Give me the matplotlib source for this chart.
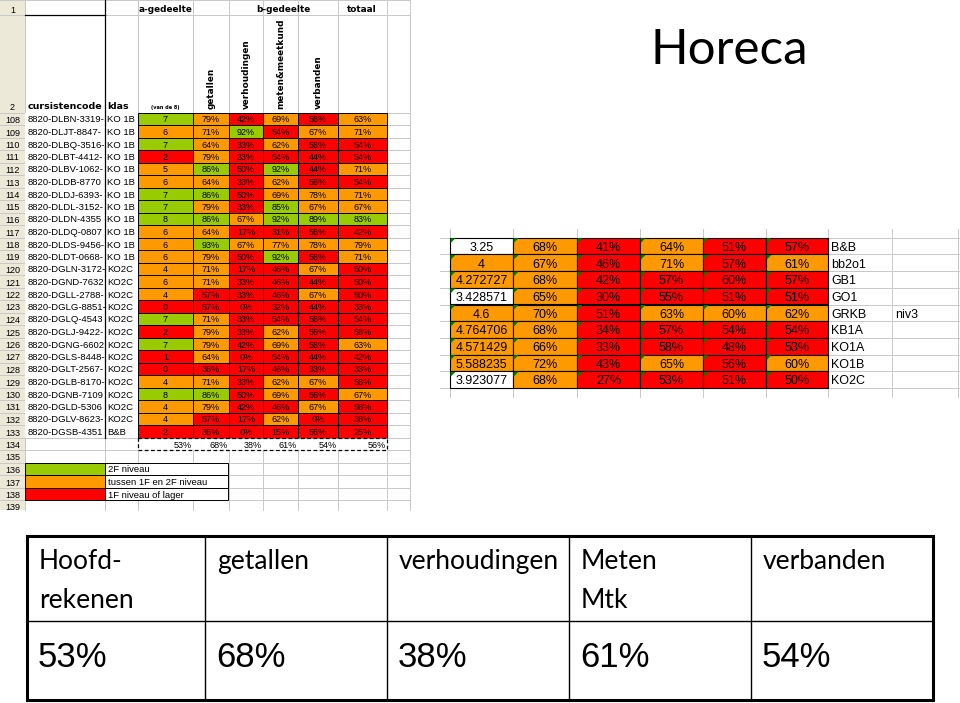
import matplotlib.pyplot as plt
from matplotlib.patches import Rectangle, Polygon

# ---- data: leerlingen (rij 108-133) ----
rij_nrs = list(range(108, 134))
codes = ['8820-DLBN-3319-', '8820-DLJT-8847-', '8820-DLBQ-3516-', '8820-DLBT-4412-',
         '8820-DLBV-1062-', '8820-DLDB-8770', '8820-DLDJ-6393-', '8820-DLDL-3152-',
         '8820-DLDN-4355', '8820-DLDQ-0807', '8820-DLDS-9456-', '8820-DLDT-0668-',
         '8820-DGLN-3172-', '8820-DGND-7632', '8820-DGLL-2788-', '8820-DGLG-8851-',
         '8820-DGLQ-4543', '8820-DGLJ-9422-', '8820-DGNG-6602', '8820-DGLS-8448-',
         '8820-DGLT-2567-', '8820-DGLB-8170-', '8820-DGNB-7109', '8820-DGLD-5306',
         '8820-DGLV-8623-', '8820-DGSB-4351']
klassen = ['KO 1B'] * 12 + ['KO2C'] * 13 + ['B&B']
score_a = [7, 6, 7, 2, 5, 6, 7, 7, 8, 6, 6, 6, 4, 6, 4, 0, 7, 2, 7, 1, 0, 4, 8, 4, 4, 2]
getallen = [79, 71, 64, 79, 86, 64, 86, 79, 86, 64, 93, 79, 71, 71, 57, 57, 71, 79, 79, 64, 36, 71, 86, 79, 57, 36]
verhoudingen = [42, 92, 33, 33, 50, 33, 50, 33, 67, 17, 67, 50, 17, 33, 33, 0, 33, 33, 42, 0, 17, 33, 50, 42, 17, 0]
meten = [69, 54, 62, 54, 92, 62, 69, 85, 92, 31, 77, 92, 46, 46, 46, 32, 54, 62, 69, 54, 46, 62, 69, 46, 62, 15]
verbanden = [56, 67, 56, 44, 44, 56, 78, 67, 89, 56, 78, 56, 67, 44, 67, 44, 56, 56, 56, 44, 33, 67, 56, 67, 0, 56]
totaal = [63, 71, 54, 54, 71, 54, 71, 67, 83, 42, 79, 71, 50, 50, 50, 33, 54, 58, 63, 42, 33, 58, 67, 58, 38, 25]
gemiddelden = [53, 68, 38, 61, 54, 56]

# ---- data: per klas ----
klas_labels = ['B&B', 'bb2o1', 'GB1', 'GO1', 'GRKB', 'KB1A', 'KO1A', 'KO1B', 'KO2C']
klas_score = [3.25, 4, 4.272727, 3.428571, 4.6, 4.764706, 4.571429, 5.588235, 3.923077]
klas_getallen = [68, 67, 68, 65, 70, 68, 66, 72, 68]
klas_verh = [41, 46, 42, 30, 51, 34, 33, 43, 27]
klas_meten = [64, 71, 57, 55, 63, 57, 58, 65, 53]
klas_verb = [51, 57, 59.6, 51, 60, 54, 48, 56, 51]
klas_totaal = [57, 61, 57, 51, 62, 54, 53, 60, 50]

# ---- data: samenvatting ----
kopjes = ['Hoofd-\nrekenen', 'getallen', 'verhoudingen', 'Meten\nMtk', 'verbanden']
legenda = ['2F niveau', 'tussen 1F en 2F niveau', '1F niveau of lager']

GROEN, ORANJE, ROOD = '#99cc00', '#ff9900', '#ff0000'
RASTER = '#c8c8c8'
KOP_BG = '#ece9d8'


def kleur_pct(v):
    return GROEN if v >= 80 else ORANJE if v >= 60 else ROOD


def kleur_score(s):
    return GROEN if s >= 7 else ORANJE if s >= 4 else ROOD


fig = plt.figure(figsize=(9.6, 7.03), dpi=100)
ax = fig.add_axes([0, 0, 1, 1])
ax.set_xlim(0, 960)
ax.set_ylim(703, 0)
ax.axis('off')

SANS = 'Liberation Sans'

# ---------------- spreadsheet links ----------------
col_x = [0, 25, 105, 138, 193, 229, 263, 298, 338, 387, 410]
rh = 12.5
rij_top = {1: 0, 2: 15}
for i, nr in enumerate(range(108, 140)):
    rij_top[nr] = 112.5 + i * rh
onder = 510

# rijkoppen
ax.add_patch(Rectangle((0, 0), 25, onder, facecolor=KOP_BG, edgecolor='none', zorder=0))
for x in col_x[1:]:
    ax.plot([x, x], [0, onder], color=RASTER, lw=0.7, zorder=1)
for nr, top in rij_top.items():
    ax.plot([0, 410], [top, top], color=RASTER, lw=0.7, zorder=1)
    bot = rij_top.get(nr + 1, top + rh) if nr != 2 else 112.5
    ax.text(12.5, bot - 2, str(nr), ha='center', va='baseline', fontsize=6.5,
            family=SANS, zorder=5)
ax.plot([105, 105], [0, 437.5], color='black', lw=0.9, zorder=6)
ax.plot([25, 105], [15, 15], color='black', lw=0.9, zorder=6)

# kopteksten
bold = dict(fontweight='bold', family='DejaVu Sans', fontsize=6.4, zorder=5)
ax.text(165.5, 12, 'a-gedeelte', ha='center', va='baseline', **bold)
ax.text(283, 12, 'b-gedeelte', ha='center', va='baseline', **bold)
ax.text(362, 12, 'totaal', ha='center', va='baseline', **bold)
ax.text(28, 109, 'cursistencode', ha='left', va='baseline', fontweight='bold',
        family='DejaVu Sans', fontsize=6.8, zorder=5)
ax.text(107, 109, 'klas', ha='left', va='baseline', fontweight='bold',
        family='DejaVu Sans', fontsize=6.8, zorder=5)
ax.text(165.5, 108.5, '(van de 8)', ha='center', va='baseline', fontweight='bold',
        family='DejaVu Sans', fontsize=3.6, zorder=5)
for naam, x0, x1 in [('getallen', 193, 229), ('verhoudingen', 229, 263),
                     ('meten&meetkund', 263, 298), ('verbanden', 298, 338)]:
    t = ax.text((x0 + x1) / 2, 109, naam, ha='center', va='bottom', rotation=90, **bold)
    t.set_clip_path(Rectangle((x0, 15), x1 - x0, 97, transform=ax.transData))

# datarijen
kolommen = [getallen, verhoudingen, meten, verbanden, totaal]
for i, nr in enumerate(rij_nrs):
    top = rij_top[nr]
    ax.add_patch(Rectangle((25, top), 80, rh, facecolor='white', edgecolor='none', zorder=2))
    ax.plot([25, 105], [top + rh, top + rh], color=RASTER, lw=0.7, zorder=2)
    ax.text(28, top + rh - 2.5, codes[i], ha='left', va='baseline', fontsize=6.8,
            family=SANS, zorder=3)
    ax.add_patch(Rectangle((105, top), 33, rh, facecolor='white', edgecolor='none', zorder=4))
    ax.plot([105, 138], [top + rh, top + rh], color=RASTER, lw=0.7, zorder=4)
    ax.text(107, top + rh - 2.5, klassen[i], ha='left', va='baseline', fontsize=6.8,
            family=SANS, zorder=5)
    ax.add_patch(Rectangle((138, top), 55, rh, facecolor=kleur_score(score_a[i]),
                           edgecolor='black', lw=0.7, zorder=4))
    ax.text(165.5, top + rh - 2.5, str(score_a[i]), ha='center', va='baseline',
            fontsize=6.5, family=SANS, zorder=5)
    for k, waarden in enumerate(kolommen):
        x0, x1 = col_x[4 + k], col_x[5 + k]
        v = waarden[i]
        ax.add_patch(Rectangle((x0, top), x1 - x0, rh, facecolor=kleur_pct(v),
                               edgecolor='black', lw=0.7, zorder=4))
        ax.text((x0 + x1) / 2, top + rh - 2.5, f'{v}%', ha='center', va='baseline',
                fontsize=6.5, family=SANS, zorder=5)

# gemiddelden rij 134
top = rij_top[134]
ax.add_patch(Rectangle((138, top), 249, rh, facecolor='white', edgecolor='black',
                       lw=0.9, ls=(0, (3, 2)), zorder=4))
for k, v in enumerate(gemiddelden):
    ax.text(col_x[4 + k] - 1.5, top + rh - 2.5, f'{v}%', ha='right', va='baseline',
            fontsize=6.5, family=SANS, zorder=5)

# legenda rij 136-138
for j, (tekst, kl) in enumerate(zip(legenda, [GROEN, ORANJE, ROOD])):
    top = rij_top[136 + j]
    ax.add_patch(Rectangle((25, top), 80, rh, facecolor=kl, edgecolor='black', lw=0.7, zorder=4))
    ax.add_patch(Rectangle((105, top), 123, rh, facecolor='white', edgecolor='black', lw=0.7, zorder=4))
    ax.text(108, top + rh - 2.5, tekst, ha='left', va='baseline', fontsize=6.8,
            family=SANS, zorder=5)

# ---------------- tabel per klas ----------------
kx = [450, 513, 577, 640, 703, 766, 828, 892, 958]
ktop, kh = 237.7, 16.7
for x in kx:
    ax.plot([x, x], [229, 397], color=RASTER, lw=0.7, zorder=1)
for r in range(len(klas_labels) + 1):
    y = ktop + r * kh
    ax.plot([440, 960], [y, y], color=RASTER, lw=0.7, zorder=1)

klas_kolommen = [klas_getallen, klas_verh, klas_meten, klas_verb, klas_totaal]
for r, lab in enumerate(klas_labels):
    top = ktop + r * kh
    s = klas_score[r]
    ax.add_patch(Rectangle((kx[0], top), kx[1] - kx[0], kh,
                           facecolor=ORANJE if s >= 4 else 'white',
                           edgecolor='black', lw=0.8, zorder=4))
    ax.text((kx[0] + kx[1]) / 2, top + kh - 3.5, f'{s:.6f}'.rstrip('0').rstrip('.'),
            ha='center', va='baseline', fontsize=9, family=SANS, zorder=5)
    for k, waarden in enumerate(klas_kolommen):
        x0, x1 = kx[1 + k], kx[2 + k]
        v = waarden[r]
        ax.add_patch(Rectangle((x0, top), x1 - x0, kh, facecolor=kleur_pct(v),
                               edgecolor='black', lw=0.8, zorder=4))
        ax.text((x0 + x1) / 2, top + kh - 3.5, f'{v:.0f}%', ha='center', va='baseline',
                fontsize=9, family=SANS, zorder=5)
    for k in range(6):
        x0 = kx[k]
        ax.add_patch(Polygon([[x0 + 0.5, top + 0.5], [x0 + 5.5, top + 0.5], [x0 + 0.5, top + 5.5]],
                             closed=True, facecolor='#007a00', edgecolor='none', zorder=6))
    ax.text(kx[6] + 3, top + kh - 3.5, lab, ha='left', va='baseline', fontsize=9,
            family=SANS, zorder=5)
ax.text(kx[7] + 3, ktop + 4 * kh + kh - 3.5, 'niv3', ha='left', va='baseline',
        fontsize=9, family=SANS, zorder=5)

# ---------------- titel ----------------
ax.text(729, 64, 'Horeca', ha='center', va='baseline', fontsize=35.5, family='Lato')

# ---------------- samenvattingstabel ----------------
tx = [27, 205, 387, 569, 751, 933]
t_top, t_mid, t_bot = 536, 621, 700
ax.add_patch(Rectangle((tx[0], t_top), tx[-1] - tx[0], t_bot - t_top, facecolor='none',
                       edgecolor='black', lw=2.2, zorder=6))
ax.plot([tx[0], tx[-1]], [t_mid, t_mid], color='black', lw=1, zorder=6)
for x in tx[1:-1]:
    ax.plot([x, x], [t_top, t_bot], color='black', lw=1, zorder=6)
for k, kop in enumerate(kopjes):
    for regel_nr, regel in enumerate(kop.split('\n')):
        ax.text(tx[k] + 12, 569 + regel_nr * 39, regel, ha='left', va='baseline',
                fontsize=19, family='Lato', zorder=7)
    ax.text(tx[k] + 11, 667, f'{gemiddelden[k]}%', ha='left', va='baseline',
            fontsize=25, family=SANS, zorder=7)

fig.savefig('out.png', dpi=100)
